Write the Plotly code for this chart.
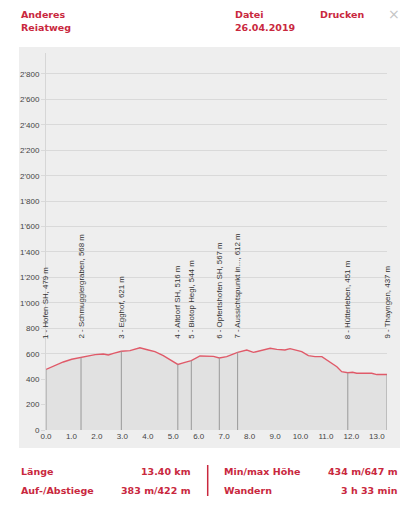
import numpy as np
import plotly.graph_objects as go

# ---- data ----
dist_km = [0.0, 0.29, 0.68, 1.01, 1.38, 1.73, 1.93, 2.25, 2.45, 2.65, 2.96, 3.30, 3.69,
           4.02, 4.28, 4.61, 4.87, 5.18, 5.46, 5.71, 6.05, 6.38, 6.58, 6.81, 7.10, 7.53,
           7.89, 8.15, 8.48, 8.81, 9.07, 9.39, 9.59, 9.85, 10.05, 10.31, 10.57, 10.84,
           11.16, 11.43, 11.62, 11.86, 12.05, 12.21, 12.47, 12.80, 13.00, 13.40]
elev_m = [476, 503, 535, 556, 569, 582, 593, 598, 590, 603, 619, 624, 647,
          629, 616, 585, 551, 516, 532, 546, 582, 577, 579, 566, 577, 611,
          629, 611, 629, 643, 634, 629, 640, 629, 616, 585, 577, 577,
          537, 498, 459, 450, 454, 446, 446, 446, 436, 436]

wp_km = [0.0, 1.376, 2.96, 5.18, 5.71, 6.81, 7.53, 11.86, 13.40]
wp_names = ["Hofen SH", "Schmugglergraben", "Egghof", "Altdorf SH", "Biotop Hegi",
            "Opfertshofen SH", "Aussichtspunkt in...", "Hütterleben", "Thayngen"]
wp_elev = [479, 568, 621, 516, 544, 567, 612, 451, 437]

y_tickvals = [0, 200, 400, 600, 800, 1000, 1200, 1400, 1600, 1800, 2000, 2200, 2400, 2600, 2800]
y_ticktext = ["0", "200", "400", "600", "800", "1'000", "1'200", "1'400", "1'600",
              "1'800", "2'000", "2'200", "2'400", "2'600", "2'800"]

header_title = ["Anderes", "Reiatweg"]
header_file = ["Datei", "26.04.2019"]
header_print = "Drucken"
stats_left = [("Länge", "13.40 km"), ("Auf-/Abstiege", "383 m/422 m")]
stats_right = [("Min/max Höhe", "434 m/647 m"), ("Wandern", "3 h 33 min")]

# ---- layout geometry (pixels) ----
W, H = 419, 512
L, R, T, B = 46, 387, 53, 430
RED = "#c9283e"


def px(x):
    return (x - L) / (R - L)


def py(y):
    return (B - y) / (B - T)


fig = go.Figure()

fig.add_trace(go.Scatter(
    x=dist_km, y=elev_m, mode="lines", fill="tozeroy",
    fillcolor="#e1e1e1", line=dict(color="#e05a69", width=1.4),
    hoverinfo="skip", showlegend=False))

wp_top = np.interp(wp_km, dist_km, elev_m)
for xk, yt in zip(wp_km, wp_top):
    fig.add_trace(go.Scatter(
        x=[xk, xk], y=[0, yt], mode="lines",
        line=dict(color="#999999", width=1), hoverinfo="skip", showlegend=False))

annotations = []
for i, (xk, name, e) in enumerate(zip(wp_km, wp_names, wp_elev), start=1):
    annotations.append(dict(
        x=xk, y=700, xref="x", yref="y", text=f"{i} - {name}, {e} m",
        textangle=-90, showarrow=False, xanchor="center", yanchor="bottom",
        font=dict(family="Liberation Sans, Arial", size=7.9, color="#333333")))

hfont = dict(family="DejaVu Sans, Verdana", size=9.5, color=RED, weight="bold")
for k, t in enumerate(header_title):
    annotations.append(dict(x=px(19), y=py(14 + 13 * k), xref="paper", yref="paper",
                            text=t, showarrow=False, xanchor="left", yanchor="middle",
                            font=hfont))
for k, t in enumerate(header_file):
    annotations.append(dict(x=px(233), y=py(14 + 13 * k), xref="paper", yref="paper",
                            text=t, showarrow=False, xanchor="left", yanchor="middle",
                            font=hfont))
annotations.append(dict(x=px(318), y=py(14), xref="paper", yref="paper",
                        text=header_print, showarrow=False, xanchor="left",
                        yanchor="middle", font=hfont))
annotations.append(dict(x=px(394), y=py(14), xref="paper", yref="paper",
                        text="×", showarrow=False, xanchor="center", yanchor="middle",
                        font=dict(family="DejaVu Sans", size=14, color="#c4c4c4")))

for k, (lab, val) in enumerate(stats_left):
    yy = py(471 + 19.5 * k)
    annotations.append(dict(x=px(19), y=yy, xref="paper", yref="paper", text=lab,
                            showarrow=False, xanchor="left", yanchor="middle", font=hfont))
    annotations.append(dict(x=px(193), y=yy, xref="paper", yref="paper", text=val,
                            showarrow=False, xanchor="right", yanchor="middle", font=hfont))
for k, (lab, val) in enumerate(stats_right):
    yy = py(471 + 19.5 * k)
    annotations.append(dict(x=px(222), y=yy, xref="paper", yref="paper", text=lab,
                            showarrow=False, xanchor="left", yanchor="middle", font=hfont))
    annotations.append(dict(x=px(400), y=yy, xref="paper", yref="paper", text=val,
                            showarrow=False, xanchor="right", yanchor="middle", font=hfont))

shapes = [
    dict(type="rect", xref="paper", yref="paper", x0=px(19), x1=px(400),
         y0=py(448), y1=py(47), fillcolor="#eeeeee", line=dict(width=0), layer="below"),
    dict(type="line", xref="paper", yref="paper", x0=px(207.7), x1=px(207.7),
         y0=py(465), y1=py(496), line=dict(color=RED, width=1.5)),
]

fig.update_layout(
    width=W, height=H,
    margin=dict(l=L, r=W - R, t=T, b=H - B, pad=0),
    paper_bgcolor="white", plot_bgcolor="rgba(0,0,0,0)",
    showlegend=False,
    annotations=annotations, shapes=shapes,
    xaxis=dict(range=[0, 13.4], tickmode="linear", tick0=0, dtick=1, tickformat=".1f",
               showgrid=False, zeroline=False, showline=False, ticks="",
               tickfont=dict(family="Liberation Sans, Arial", size=8, color="#444444"),
               fixedrange=True),
    yaxis=dict(range=[0, 2965], tickmode="array", tickvals=y_tickvals, ticktext=y_ticktext,
               showgrid=True, gridcolor="#d9d9d9", gridwidth=1, zeroline=False,
               showline=True, linecolor="#d6d6d6", linewidth=1,
               ticks="outside", ticklen=4, tickcolor="#d9d9d9",
               tickfont=dict(family="Liberation Sans, Arial", size=8, color="#444444"),
               fixedrange=True),
)

fig.write_html("out.html", config={"displayModeBar": False},
               post_script="document.body.style.margin='0';document.body.style.overflow='hidden';")
